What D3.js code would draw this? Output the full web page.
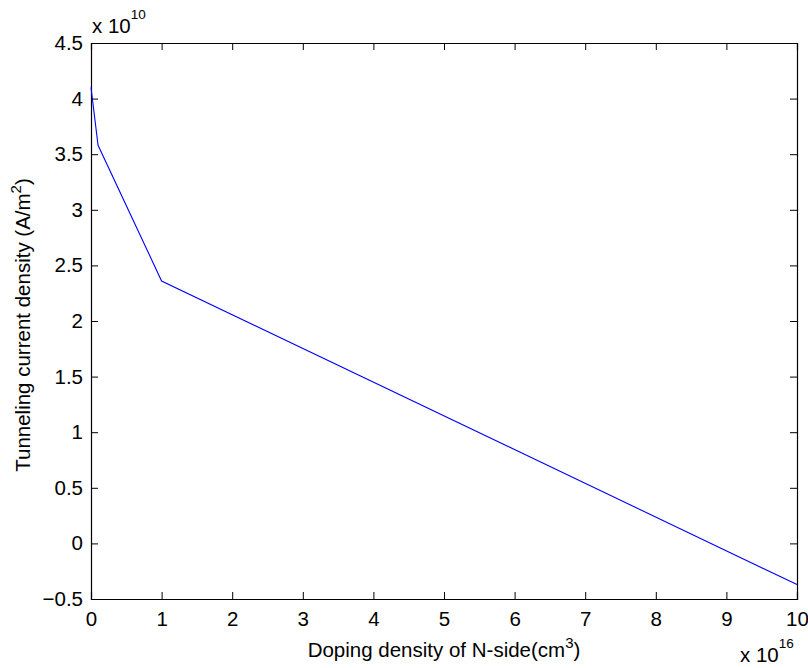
<!DOCTYPE html>
<html>
<head>
<meta charset="utf-8">
<script src="https://d3js.org/d3.v7.min.js"></script>
<style>
  body { margin: 0; background: #fff; }
  text { font-family: "Liberation Sans", Arial, sans-serif; fill: #000; }
</style>
</head>
<body>
<div id="chart"></div>
<script>
  // doping density (x 1e16) vs tunneling current density (x 1e10)
  var doping = [0, 0.1, 1, 10];
  var current = [4.10, 3.58, 2.36, -0.37];
  var xTicks = [0, 1, 2, 3, 4, 5, 6, 7, 8, 9, 10];
  var yTicks = [-0.5, 0, 0.5, 1, 1.5, 2, 2.5, 3, 3.5, 4, 4.5];

  var width = 808, height = 668;
  var margin = { top: 43, right: 11, bottom: 69, left: 91 };
  var fs = 20.5;

  var svg = d3.select('#chart')
    .append('svg')
    .attr('width', width)
    .attr('height', height);

  var x = d3.scaleLinear().domain([0, 10]).range([margin.left, width - margin.right]);
  var y = d3.scaleLinear().domain([-0.5, 4.5]).range([height - margin.bottom, margin.top]);

  var fmt = function (d) { return d3.format('')(d); };

  // axes with inner ticks on all four sides (matlab box)
  var bottomAxis = d3.axisBottom(x).tickValues(xTicks).tickSize(-7).tickPadding(12).tickFormat(fmt);
  var topAxis = d3.axisTop(x).tickValues(xTicks).tickSize(-7).tickFormat('');
  var leftAxis = d3.axisLeft(y).tickValues(yTicks).tickSize(-7).tickPadding(8).tickFormat(fmt);
  var rightAxis = d3.axisRight(y).tickValues(yTicks).tickSize(-7).tickFormat('');

  function style(g) {
    g.select('.domain').attr('stroke', '#000').attr('stroke-width', 1.2);
    g.selectAll('.tick line').attr('stroke', '#000');
    g.selectAll('.tick text').attr('font-size', fs).attr('font-family', '"Liberation Sans", Arial, sans-serif').attr('fill', '#000');
  }

  svg.append('g').attr('transform', 'translate(0,' + (height - margin.bottom) + ')').call(bottomAxis).call(style);
  svg.append('g').attr('transform', 'translate(0,' + margin.top + ')').call(topAxis).call(style);
  svg.append('g').attr('transform', 'translate(' + margin.left + ',0)').call(leftAxis).call(style);
  svg.append('g').attr('transform', 'translate(' + (width - margin.right) + ',0)').call(rightAxis).call(style);

  // the curve
  var pts = doping.map(function (d, i) { return [d, current[i]]; });
  svg.append('path')
    .datum(pts)
    .attr('fill', 'none')
    .attr('stroke', '#0000ff')
    .attr('stroke-width', 1.1)
    .attr('d', d3.line().x(function (d) { return x(d[0]); }).y(function (d) { return y(d[1]); }));

  // exponent labels
  var e1 = svg.append('text').attr('x', margin.left + 1).attr('y', 33).attr('font-size', fs);
  e1.append('tspan').text('x 10');
  e1.append('tspan').attr('dy', -14).attr('font-size', 13.5).text('10');

  var e2 = svg.append('text').attr('x', 740).attr('y', 662).attr('font-size', fs);
  e2.append('tspan').text('x 10');
  e2.append('tspan').attr('dy', -14).attr('font-size', 13.5).text('16');

  // axis titles
  var xl = svg.append('text')
    .attr('x', (margin.left + width - margin.right) / 2)
    .attr('y', 657)
    .attr('text-anchor', 'middle')
    .attr('font-size', fs);
  xl.append('tspan').text('Doping density of N-side(cm');
  xl.append('tspan').attr('dy', -9).attr('font-size', 15).text('3');
  xl.append('tspan').attr('dy', 9).text(')');

  var yl = svg.append('text')
    .attr('transform', 'translate(30,' + ((margin.top + height - margin.bottom) / 2 + 4) + ') rotate(-90)')
    .attr('text-anchor', 'middle')
    .attr('font-size', fs);
  yl.append('tspan').text('Tunneling current density (A/m');
  yl.append('tspan').attr('dy', -9).attr('font-size', 15).text('2');
  yl.append('tspan').attr('dy', 9).text(')');
</script>
</body>
</html>
